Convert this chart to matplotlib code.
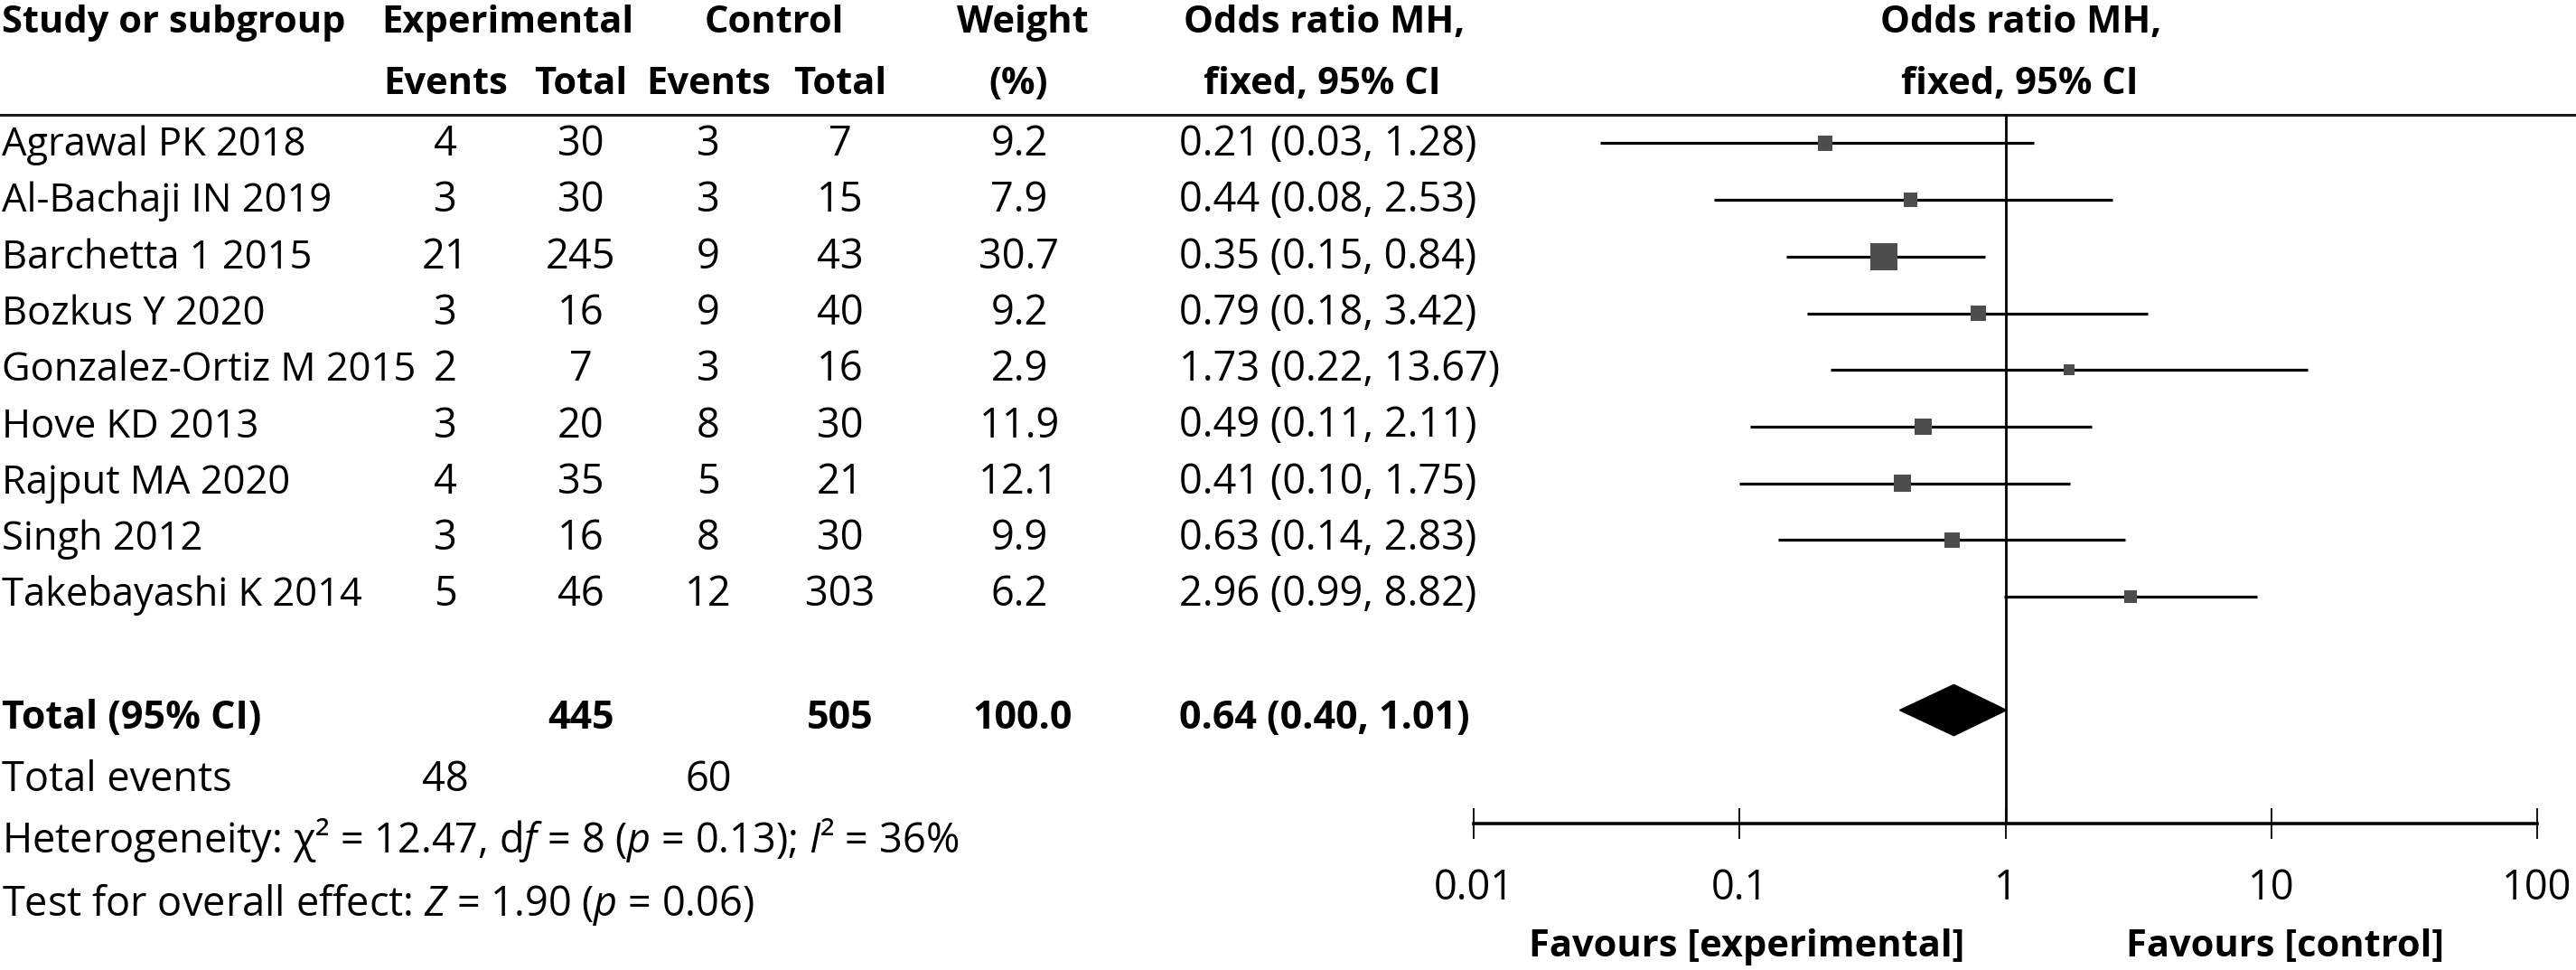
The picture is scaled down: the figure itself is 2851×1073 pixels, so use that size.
"""Forest plot: odds ratio MH, fixed, 95% CI (RevMan style)."""

import numpy as np
import matplotlib
matplotlib.use("Agg")
import matplotlib.pyplot as plt
from matplotlib.patches import Polygon

plt.rcParams["font.family"] = ["Open Sans", "DejaVu Sans"]
plt.rcParams["mathtext.fontset"] = "custom"
plt.rcParams["mathtext.rm"] = "Open Sans"
plt.rcParams["mathtext.it"] = "Open Sans:italic"

STUDIES = ["Agrawal PK 2018", "Al-Bachaji IN 2019", "Barchetta 1 2015", "Bozkus Y 2020",
           "Gonzalez-Ortiz M 2015", "Hove KD 2013", "Rajput MA 2020", "Singh 2012",
           "Takebayashi K 2014"]
EXP_EVENTS = [4, 3, 21, 3, 2, 3, 4, 3, 5]
EXP_TOTAL = [30, 30, 245, 16, 7, 20, 35, 16, 46]
CTL_EVENTS = [3, 3, 9, 9, 3, 8, 5, 8, 12]
CTL_TOTAL = [7, 15, 43, 40, 16, 30, 21, 30, 303]
WEIGHT = [9.2, 7.9, 30.7, 9.2, 2.9, 11.9, 12.1, 9.9, 6.2]
OR = [0.21, 0.44, 0.35, 0.79, 1.73, 0.49, 0.41, 0.63, 2.96]
LO = [0.03, 0.08, 0.15, 0.18, 0.22, 0.11, 0.10, 0.14, 0.99]
HI = [1.28, 2.53, 0.84, 3.42, 13.67, 2.11, 1.75, 2.83, 8.82]

TOT_EXP, TOT_CTL, TOT_WEIGHT = 445, 505, 100.0
TOT_OR, TOT_LO, TOT_HI = 0.64, 0.40, 1.01
EV_EXP, EV_CTL = 48, 60
TICKS = [0.01, 0.1, 1, 10, 100]
TICK_LABELS = ["0.01", "0.1", "1", "10", "100"]

W, H = 2851, 1073
FS = 32.5      # regular text
FS_N = 31.3    # study names (narrower so the long name clears the events column)
FS_B = 30      # bold headers
FS_T = 31      # bold total row
fig = plt.figure(figsize=(W / 100, H / 100), dpi=100)

# text layer in pixel coordinates
tx = fig.add_axes([0, 0, 1, 1])
tx.set_xlim(0, W); tx.set_ylim(H, 0); tx.axis("off")

def t(x, y, s, ha="left", bold=False, size=None):
    if size is None:
        size = FS_B if bold else FS
    tx.text(x, y, s, ha=ha, va="baseline", fontsize=size,
            fontweight="bold" if bold else "normal")

C_EV1, C_TOT1, C_EV2, C_TOT2, C_W, C_OR = 493, 643, 784, 930, 1128, 1305

t(2, 36, "Study or subgroup", bold=True)
t(562, 36, "Experimental", ha="center", bold=True)
t(857, 36, "Control", ha="center", bold=True)
t(1132, 36, "Weight", ha="center", bold=True)
t(1466, 36, "Odds ratio MH,", ha="center", bold=True)
t(2237, 36, "Odds ratio MH,", ha="center", bold=True)
t(C_EV1, 104, "Events", ha="center", bold=True)
t(C_TOT1, 104, "Total", ha="center", bold=True)
t(C_EV2, 104, "Events", ha="center", bold=True)
t(C_TOT2, 104, "Total", ha="center", bold=True)
t(1127, 104, "(%)", ha="center", bold=True)
t(1463, 104, "fixed, 95% CI", ha="center", bold=True)
t(2235, 104, "fixed, 95% CI", ha="center", bold=True)
tx.axhline(127, color="#1a1a1a", lw=2.2)

for i, name in enumerate(STUDIES):
    yb = 172 + i * 62.3
    t(2, yb, name, size=FS_N)
    t(C_EV1, yb, str(EXP_EVENTS[i]), ha="center")
    t(C_TOT1, yb, str(EXP_TOTAL[i]), ha="center")
    t(C_EV2, yb, str(CTL_EVENTS[i]), ha="center")
    t(C_TOT2, yb, str(CTL_TOTAL[i]), ha="center")
    t(C_W, yb, f"{WEIGHT[i]:.1f}", ha="center")
    t(C_OR, yb, f"{OR[i]:.2f} ({LO[i]:.2f}, {HI[i]:.2f})")

t(2, 806, "Total (95% CI)", bold=True, size=FS_T)
t(C_TOT1, 806, str(TOT_EXP), ha="center", bold=True, size=FS_T)
t(C_TOT2, 806, str(TOT_CTL), ha="center", bold=True, size=FS_T)
t(1132, 806, f"{TOT_WEIGHT:.1f}", ha="center", bold=True, size=FS_T)
t(C_OR, 806, f"{TOT_OR:.2f} ({TOT_LO:.2f}, {TOT_HI:.2f})", bold=True, size=FS_T)
t(2, 875, "Total events")
t(C_EV1, 875, str(EV_EXP), ha="center")
t(C_EV2, 875, str(EV_CTL), ha="center")
t(2, 943, r"Heterogeneity: χ² = 12.47, d$\mathit{f}$ = 8 ($\mathit{p}$ = 0.13); $\mathit{I}$² = 36%")
t(2, 1013, r"Test for overall effect: $\mathit{Z}$ = 1.90 ($\mathit{p}$ = 0.06)")
t(1933, 1058, "Favours [experimental]", ha="center", bold=True)
t(2529, 1058, "Favours [control]", ha="center", bold=True)

# forest panel
x0, x1, ytop, ybot = 1631, 2808, 127, 911
ax = fig.add_axes([x0 / W, (H - ybot) / H, (x1 - x0) / W, (ybot - ytop) / H])
ax.set_facecolor("none")
ax.set_xscale("log")
ax.set_xlim(0.01, 100)
ax.set_ylim(12, -0.5)
for s in ("top", "left", "right"):
    ax.spines[s].set_visible(False)
ax.spines["bottom"].set_linewidth(2.6)
ax.set_yticks([])
ax.set_xticks(TICKS)
ax.set_xticklabels(TICK_LABELS, fontsize=FS)
ax.minorticks_off()
ax.tick_params(axis="x", direction="inout", length=24, width=1.3, pad=23)

rows = np.arange(len(STUDIES))
ax.axvline(1, color="black", lw=2.0, zorder=2)
ax.hlines(rows, LO, HI, color="black", lw=2.3, zorder=3)
side_px = np.maximum(5.4 * np.sqrt(WEIGHT), 12)
ax.scatter(OR, rows, marker="s", s=(side_px * 0.72) ** 2, color="#4d4d4d",
           edgecolors="none", zorder=4)

tot_row, half = 10, 0.45
ax.add_patch(Polygon([(TOT_LO, tot_row), (TOT_OR, tot_row - half),
                      (TOT_HI, tot_row), (TOT_OR, tot_row + half)],
                     closed=True, color="black", zorder=4))

fig.savefig("out.png", dpi=100)
